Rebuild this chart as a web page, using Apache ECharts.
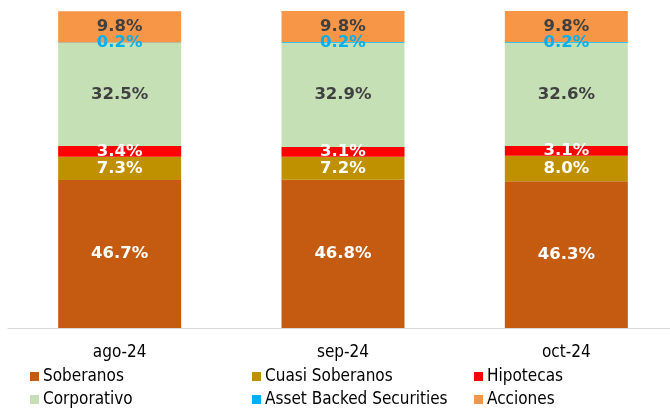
<!DOCTYPE html>
<html>
<head>
<meta charset="utf-8">
<script src="https://cdn.jsdelivr.net/npm/echarts@6/dist/echarts.min.js"></script>
<style>
  html, body { margin: 0; padding: 0; background: #fff; }
  #chart { width: 670px; height: 408px; }
</style>
</head>
<body>
<div id="chart"></div>
<script>
// categorias del eje x
const meses = ['ago-24', 'sep-24', 'oct-24'];

// composicion por tipo de instrumento (%)
const soberanos = [46.7, 46.8, 46.3];
const cuasiSoberanos = [7.3, 7.2, 8.0];
const hipotecas = [3.4, 3.1, 3.1];
const corporativo = [32.5, 32.9, 32.6];
const assetBacked = [0.2, 0.2, 0.2];
const acciones = [9.8, 9.8, 9.8];

const chart = echarts.init(document.getElementById('chart'), null, { renderer: 'canvas' });

const labelFont = 'DejaVu Sans, Verdana, sans-serif';
const textFont = 'DejaVu Sans Condensed, Tahoma, sans-serif';

// serie apilada
function makeSerie(name, data, color, labelColor) {
  return {
    name: name,
    type: 'bar',
    stack: 'total',
    barWidth: 123,
    data: data,
    itemStyle: { color: color },
    label: {
      show: true,
      position: 'inside',
      formatter: p => p.value.toFixed(1) + '%',
      color: labelColor,
      fontFamily: labelFont,
      fontWeight: 'bold',
      fontSize: 16.5
    }
  };
}

const legendText = {
  fontFamily: textFont,
  fontSize: 17,
  color: '#000',
  lineHeight: 17,
  padding: [0, 0, 0, -1]
};

// una leyenda por columna
function makeLegend(left, names) {
  return {
    orient: 'vertical',
    left: left,
    top: 368,
    height: 60,
    padding: 0,
    itemWidth: 9,
    itemHeight: 9,
    itemGap: 6,
    icon: 'rect',
    data: names.map(n => ({ name: n, icon: 'rect' })),
    textStyle: legendText
  };
}

const option = {
  animation: false,
  grid: { left: 8, top: 11, width: 670, height: 317, outerBoundsMode: 'none', containLabel: false },
  legend: [
    makeLegend(30, ['Soberanos', 'Corporativo']),
    makeLegend(252, ['Cuasi Soberanos', 'Asset Backed Securities']),
    makeLegend(474, ['Hipotecas', 'Acciones'])
  ],
  xAxis: {
    type: 'category',
    data: meses,
    axisTick: { show: false },
    axisLine: { lineStyle: { color: '#d9d9d9', width: 1 } },
    axisLabel: {
      color: '#000',
      fontFamily: textFont,
      fontSize: 17,
      margin: 16
    }
  },
  yAxis: {
    type: 'value',
    min: 0,
    max: 100,
    show: false,
    splitLine: { show: false }
  },
  series: [
    makeSerie('Soberanos', soberanos, '#C55A11', '#fff'),
    makeSerie('Cuasi Soberanos', cuasiSoberanos, '#BF9000', '#fff'),
    makeSerie('Hipotecas', hipotecas, '#FF0000', '#fff'),
    makeSerie('Corporativo', corporativo, '#C5E0B4', '#404040'),
    makeSerie('Asset Backed Securities', assetBacked, '#00B0F0', '#00B0F0'),
    makeSerie('Acciones', acciones, '#F79646', '#404040')
  ]
};

chart.setOption(option);
</script>
</body>
</html>
